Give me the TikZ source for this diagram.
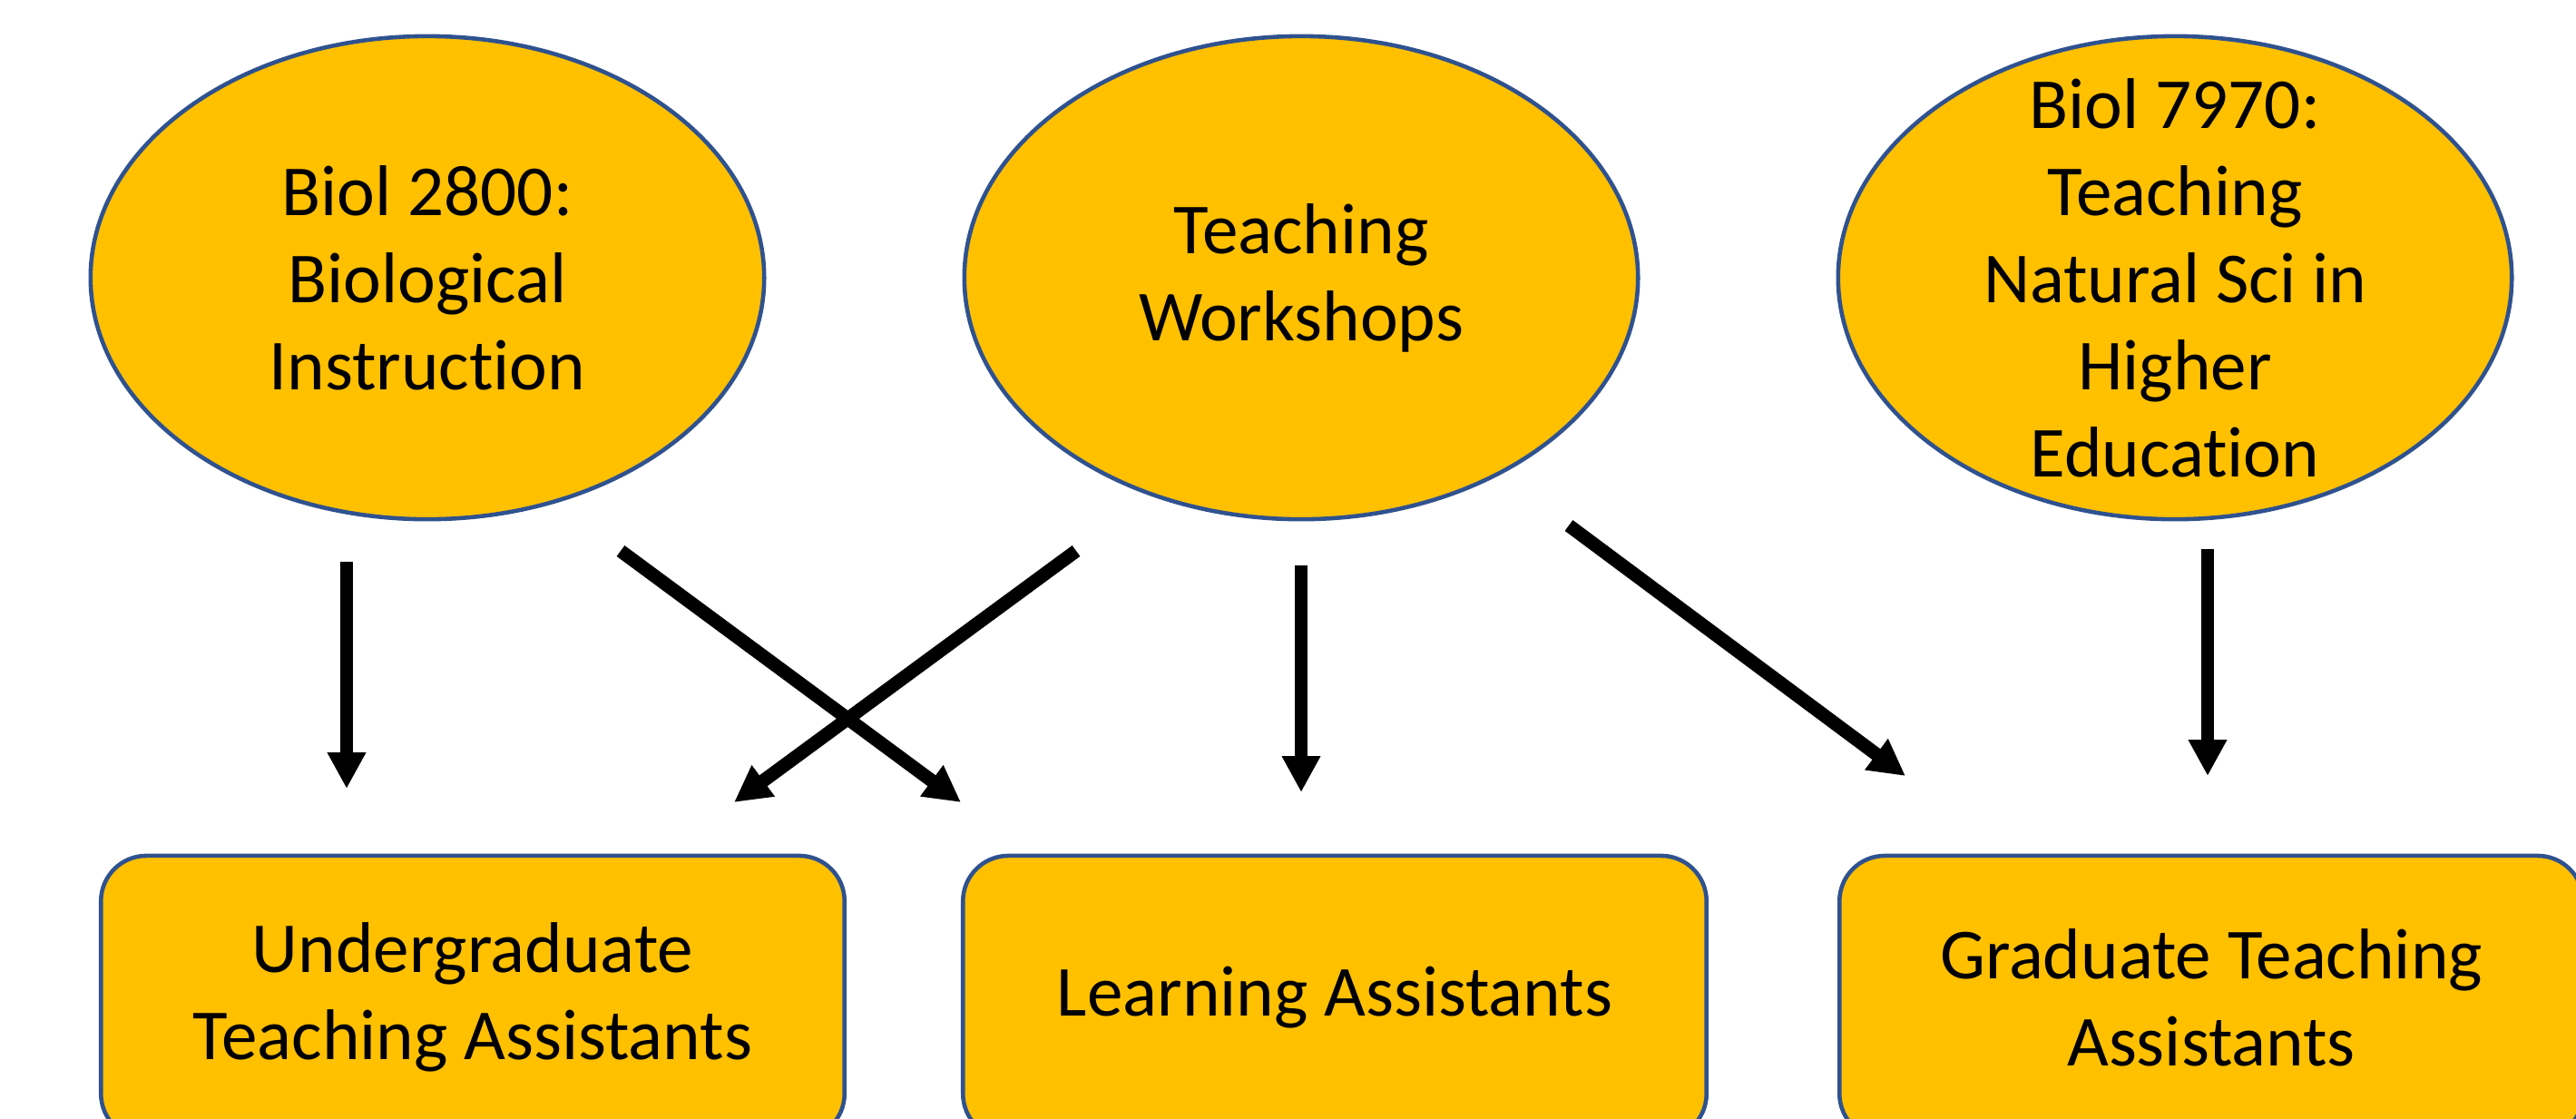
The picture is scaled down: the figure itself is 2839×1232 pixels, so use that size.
\documentclass[tikz,border=0pt]{standalone}
\usepackage{fontspec}
\setmainfont{Carlito}[Ligatures=NoCommon]
\usepackage{xcolor}
\usepackage{tikz}
\usetikzlibrary{shapes.geometric, arrows.meta, positioning}

\definecolor{gold}{HTML}{FFC000}
\definecolor{rim}{HTML}{2F528F}

\begin{document}
\begin{tikzpicture}[x=0.01cm, y=-0.01cm,
    course/.style={ellipse, draw=rim, line width=1.3pt, fill=gold, minimum width=7.42cm, minimum height=5.32cm, inner sep=0pt},
    lbl/.style={align=center, inner sep=0pt, font=\fontsize{22.5}{27.3}\selectfont},
    role/.style={rectangle, rounded corners=0.5cm, draw=rim, line width=1.3pt, fill=gold, minimum width=8.19cm, minimum height=3.12cm, align=center, inner sep=0pt, font=\fontsize{22.5}{27.3}\selectfont},
    feed/.style={line width=4.2pt, -{Triangle[width=0.4cm, length=0.4cm]}}]
    \useasboundingbox (0,0) rectangle (2839,1232);

    % Khóa học, hội thảo (hàng trên)
    \node[course] (biol) at (471,306) {};
    \node[lbl] at (biol) {Biol 2800:\\Biological\\Instruction};
    \node[course] (shop) at (1434,306) {};
    \node[lbl] at (shop) {Teaching\\Workshops};
    \node[course] (grad) at (2397,306) {};
    \node[lbl] at (grad) {Biol 7970:\\Teaching\\Natural Sci in\\Higher\\Education};

    % Các nhóm trợ giảng (hàng dưới)
    \node[role] (ugta) at (521,1099) {Undergraduate\\Teaching Assistants};
    \node[role] (la) at (1471,1099) {Learning Assistants};
    \node[role] (gta) at (2437,1099) {Graduate Teaching\\Assistants};

    % Điểm đầu, điểm cuối của các mũi tên
    \coordinate (biol-d) at (382,619);   \coordinate (ugta-u) at (382,869);
    \coordinate (biol-r) at (684,607);   \coordinate (la-l) at (1059,884);
    \coordinate (shop-l) at (1186,607);  \coordinate (ugta-r) at (809,884);
    \coordinate (shop-d) at (1434,623);  \coordinate (la-u) at (1434,873);
    \coordinate (shop-r) at (1729,579);  \coordinate (gta-l) at (2100,855);
    \coordinate (grad-d) at (2433,605);  \coordinate (gta-u) at (2433,855);

    \draw[feed] (biol-d) -- (ugta-u);
    \draw[feed] (biol-r) -- (la-l);
    \draw[feed] (shop-l) -- (ugta-r);
    \draw[feed] (shop-d) -- (la-u);
    \draw[feed] (shop-r) -- (gta-l);
    \draw[feed] (grad-d) -- (gta-u);
\end{tikzpicture}
\end{document}
